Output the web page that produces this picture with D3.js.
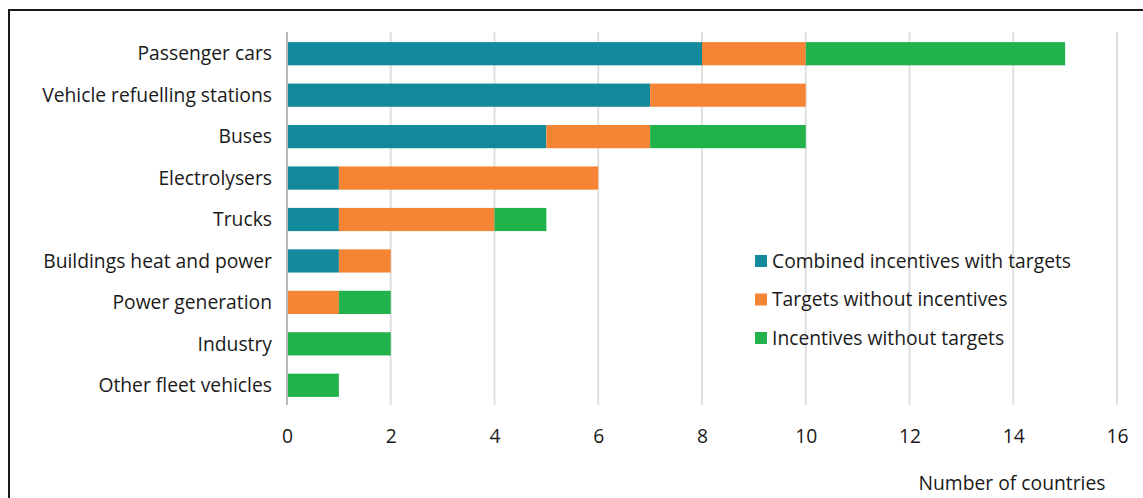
<!DOCTYPE html>
<html>
<head>
<meta charset="utf-8">
<script src="https://cdn.jsdelivr.net/npm/d3@7"></script>
<style>
  body { margin: 0; background: #fff; }
  svg text { font-family: "Open Sans", "Noto Sans", sans-serif; fill: #1a1a1a; }
</style>
</head>
<body>
<script>
const w = 1143; // width
const h = 498; // height
const fs = 19.3; // font size

// data
const categories = ["Passenger cars", "Vehicle refuelling stations", "Buses", "Electrolysers",
    "Trucks", "Buildings heat and power", "Power generation", "Industry", "Other fleet vehicles"];
const combined = [8, 7, 5, 1, 1, 1, 0, 0, 0];
const targetsOnly = [2, 3, 2, 5, 3, 1, 1, 0, 0];
const incentivesOnly = [5, 0, 3, 0, 1, 0, 1, 2, 1];
const seriesNames = ["Combined incentives with targets", "Targets without incentives", "Incentives without targets"];
const colors = ["#138a9c", "#f58535", "#21b24c"];
const xTicks = [0, 2, 4, 6, 8, 10, 12, 14, 16];

const rows = categories.map((c, i) => ({
    cat: c, s0: combined[i], s1: targetsOnly[i], s2: incentivesOnly[i]
}));

let svg = d3.select("body")
    .append("svg")
    .attr("width", w)
    .attr("height", h);

// frame
svg.append("path")
    .attr("d", `M9,${h + 5}V10H${w + 5}`)
    .attr("fill", "none")
    .attr("stroke", "#1a1a1a")
    .attr("stroke-width", 2);

let x = d3.scaleLinear().domain([0, 16]).range([287, 1117]);
let y = d3.scaleBand().domain(categories).range([33, 406]).paddingInner(0.44).paddingOuter(0.22);

// grid
svg.append("g")
    .selectAll("line")
    .data(xTicks.slice(1))
    .enter()
    .append("line")
    .attr("x1", d => x(d)).attr("x2", d => x(d))
    .attr("y1", 32).attr("y2", 405)
    .attr("stroke", "#e0e0e0")
    .attr("stroke-width", 2);

// stacked bars
let stack = d3.stack().keys(["s0", "s1", "s2"]);
let layers = stack(rows);

svg.append("g")
    .selectAll("g")
    .data(layers)
    .enter()
    .append("g")
    .attr("fill", (d, i) => colors[i])
    .selectAll("rect")
    .data(d => d.filter(v => v[1] > v[0]))
    .enter()
    .append("rect")
    .attr("x", d => x(d[0]))
    .attr("width", d => x(d[1]) - x(d[0]))
    .attr("y", d => y(d.data.cat))
    .attr("height", y.bandwidth());

// zero line
svg.append("line")
    .attr("x1", x(0)).attr("x2", x(0))
    .attr("y1", 32).attr("y2", 405)
    .attr("stroke", "#b8b8b8")
    .attr("stroke-width", 2);

// category labels
svg.append("g")
    .selectAll("text")
    .data(categories)
    .enter()
    .append("text")
    .attr("x", 272)
    .attr("y", d => y(d) + y.bandwidth() / 2)
    .attr("dy", "0.35em")
    .attr("text-anchor", "end")
    .attr("font-size", fs)
    .text(d => d);

// x axis
let axisX = d3.axisBottom(x).tickValues(xTicks).tickSize(0).tickPadding(0);
let gX = svg.append("g")
    .attr("transform", "translate(0,436)")
    .call(axisX);
gX.select(".domain").remove();
gX.selectAll("text")
    .attr("dy", "0.35em")
    .attr("font-size", fs)
    .style("font-family", null);

// x axis label
svg.append("text")
    .attr("x", 1012)
    .attr("y", 483)
    .attr("dy", "0.35em")
    .attr("text-anchor", "middle")
    .attr("font-size", fs)
    .text("Number of countries");

// legend
let legend = svg.append("g")
    .selectAll("g")
    .data(seriesNames)
    .enter()
    .append("g")
    .attr("transform", (d, i) => `translate(755,${261 + i * 38.5})`);
legend.append("rect")
    .attr("x", 0).attr("y", -6)
    .attr("width", 12).attr("height", 12)
    .attr("fill", (d, i) => colors[i]);
legend.append("text")
    .attr("x", 17)
    .attr("dy", "0.35em")
    .attr("font-size", fs)
    .text(d => d);
</script>
</body>
</html>
